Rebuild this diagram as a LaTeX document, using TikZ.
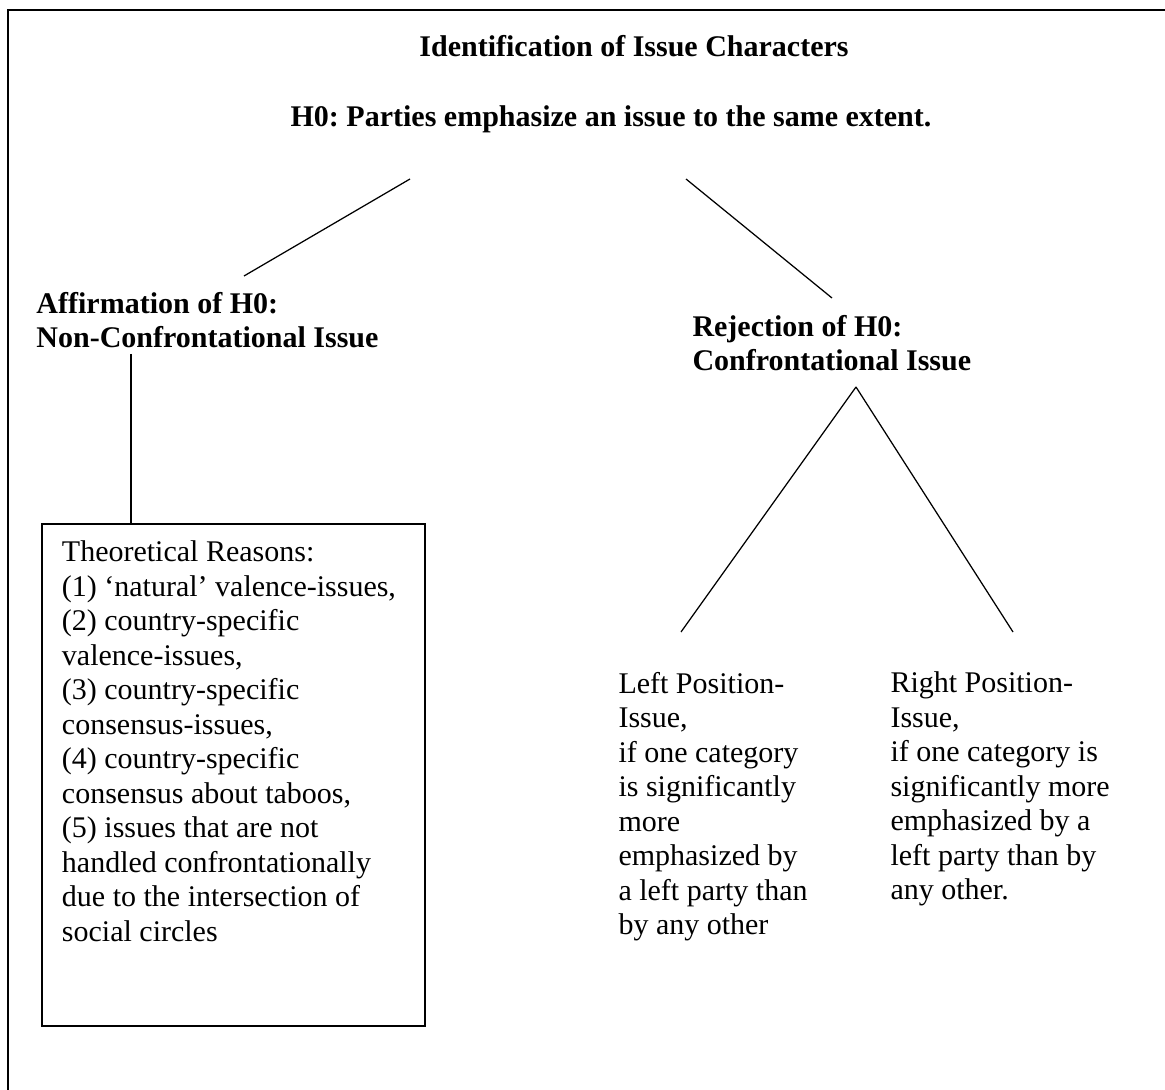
\documentclass[tikz,border=0pt]{standalone}
\usepackage{fontspec}
\setmainfont{Liberation Serif}
\usetikzlibrary{positioning}
\frenchspacing

\begin{document}
\begin{tikzpicture}[x=0.4pt,y=-0.4pt]
			\tikzstyle{heading}=[font=\fontsize{12}{13.8}\selectfont\bfseries, inner sep=0pt]
			\tikzstyle{branch}=[heading, align=left, anchor=north west]
			\tikzstyle{plain}=[font=\fontsize{12}{13.8}\selectfont, inner sep=0pt, align=left, anchor=north west]
			\tikzstyle{reasonbox}=[draw, line width=0.75pt, font=\fontsize{12}{13.8}\selectfont, inner xsep=8pt, inner ysep=6.8pt, anchor=north west]

			\useasboundingbox (0,0) rectangle (1165,1090);
			\draw[line width=0.8pt] (1165,10) -- (8,10) -- (8,1090);

			\node [heading, anchor=base] (title) at (634,57) {Identification of Issue Characters};
			\node [heading, anchor=base] (h0) at (611,127) {H0: Parties emphasize an issue to the same extent.};

			\node [branch] (aff) at (36,291.5) {Affirmation of H0:\\Non-Confrontational Issue};
			\node [branch] (rej) at (692,314.5) {Rejection of H0:\\Confrontational Issue};

			\node [reasonbox] (reasons) at (41,523) {\parbox[t][187.2pt][t]{137.2pt}{Theoretical Reasons:\\
				(1) ‘natural’ valence-issues,\\
				(2) country-specific\\
				valence-issues,\\
				(3) country-specific\\
				consensus-issues,\\
				(4) country-specific\\
				consensus about taboos,\\
				(5) issues that are not\\
				handled confrontationally\\
				due to the intersection of\\
				social circles}};

			\node [plain] (left) at (618,671.5) {Left Position-\\Issue,\\if one category\\is significantly\\more\\emphasized by\\a left party than\\by any other};
			\node [plain] (right) at (890,671.5) {Right Position-\\Issue,\\if one category is\\significantly more\\emphasized by a\\left party than by\\any other.};

			\coordinate (h0left) at (410,179);
			\coordinate (h0right) at (686,179);
			\coordinate (afftop) at (244,276);
			\coordinate (rejtop) at (832,298);
			\coordinate (afffoot) at (131,354);
			\coordinate (rejfoot) at (856,387);
			\coordinate (lefttop) at (681,632);
			\coordinate (righttop) at (1013,632);

			\path[-, line width=0.5pt]
			(h0left) edge (afftop)
			(h0right) edge (rejtop)
			(afffoot) edge (afffoot |- reasons.north)
			(rejfoot) edge (lefttop)
			(rejfoot) edge (righttop);
		\end{tikzpicture}
\end{document}
